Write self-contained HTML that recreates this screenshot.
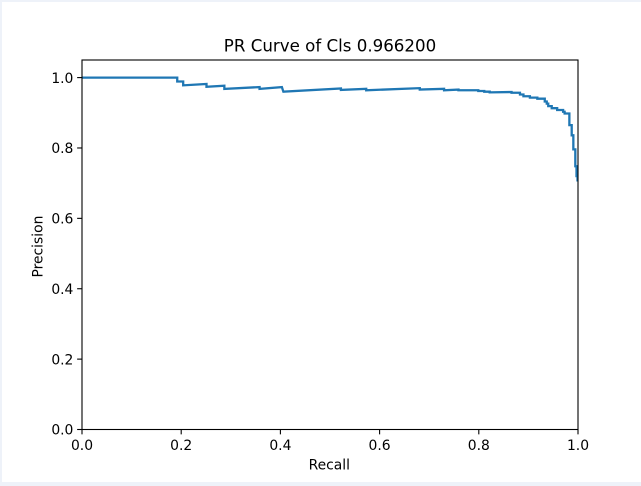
<!DOCTYPE html>
<html>
<head>
<meta charset="utf-8">
<title>PR Curve</title>
<style>
html,body{margin:0;padding:0;background:#eef2f9;width:641px;height:486px;overflow:hidden}
svg{position:absolute;left:2px;top:2px;display:block}
text{font-family:"DejaVu Sans","Liberation Sans",sans-serif;fill:#000}
</style>
</head>
<body>
<svg id="chart" width="639" height="480" viewBox="0 0 639 480">
<rect x="0" y="0" width="639" height="480" fill="#fff"/>
<g id="plot"></g>
</svg>
<script>
var recallValues = [0,0.192,0.192,0.204,0.204,0.251,0.251,0.287,0.287,0.358,0.358,0.403,0.406,0.522,0.522,0.573,0.573,0.681,0.681,0.73,0.73,0.759,0.759,0.799,0.799,0.811,0.811,0.822,0.822,0.866,0.866,0.883,0.883,0.89,0.89,0.903,0.903,0.918,0.918,0.933,0.933,0.937,0.937,0.94,0.94,0.947,0.947,0.958,0.958,0.97,0.97,0.973,0.973,0.9826,0.9826,0.9873,0.9873,0.9906,0.9906,0.9946,0.9946,0.997,0.997,0.999,0.999,1];
var precisionValues = [1,1,0.989,0.989,0.978,0.982,0.974,0.977,0.968,0.973,0.968,0.973,0.96,0.969,0.965,0.968,0.964,0.97,0.966,0.968,0.964,0.966,0.964,0.964,0.962,0.962,0.96,0.96,0.958,0.959,0.957,0.957,0.952,0.952,0.947,0.947,0.943,0.943,0.94,0.94,0.932,0.932,0.926,0.926,0.919,0.919,0.913,0.913,0.908,0.908,0.903,0.903,0.898,0.898,0.865,0.865,0.836,0.836,0.796,0.796,0.748,0.748,0.72,0.72,0.708,0.708];
var xTickValues = [0,0.2,0.4,0.6,0.8,1];
var yTickValues = [0,0.2,0.4,0.6,0.8,1];
var xTickLabels = ["0.0","0.2","0.4","0.6","0.8","1.0"];
var yTickLabels = ["0.0","0.2","0.4","0.6","0.8","1.0"];

var NS = "http://www.w3.org/2000/svg";
var plot = document.getElementById("plot");
var L = 80, R = 576, T = 58, B = 427.5;
function xScale(v){ return L + v * (R - L); }
function yScale(v){ return B - (v / 1.05) * (B - T); }
function make(tag, attrs){
  var el = document.createElementNS(NS, tag);
  for (var k in attrs) el.setAttribute(k, attrs[k]);
  return el;
}

var clip = make("clipPath", {id:"plot-clip"});
clip.appendChild(make("rect", {x:L, y:T, width:R-L, height:B-T}));
plot.appendChild(clip);

var d = "";
for (var i = 0; i < recallValues.length; i++) {
  d += (i ? "L" : "M") + xScale(recallValues[i]).toFixed(2) + " " + yScale(precisionValues[i]).toFixed(2);
}
var curve = make("path", {d:d, fill:"none", stroke:"#1f77b4", "stroke-width":"2.3", "stroke-linejoin":"miter", "clip-path":"url(#plot-clip)"});


plot.appendChild(curve);

xTickValues.forEach(function(v, i){
  var x = xScale(v);
  var t = make("line", {x1:x, x2:x, y1:B, y2:B+4.86, stroke:"#000", "stroke-width":"1.1"});
  
  
  plot.appendChild(t);
  var l = make("text", {x:x, y:B+20.3, "text-anchor":"middle", "font-size":"13.89"});
  l.textContent = xTickLabels[i];
  
  
  plot.appendChild(l);
});
yTickValues.forEach(function(v, i){
  var y = yScale(v);
  var t = make("line", {x1:L-4.86, x2:L, y1:y, y2:y, stroke:"#000", "stroke-width":"1.1"});
  
  
  plot.appendChild(t);
  var l = make("text", {x:L-8.6, y:y+5.2, "text-anchor":"end", "font-size":"13.89"});
  l.textContent = yTickLabels[i];
  
  
  plot.appendChild(l);
});

var frame = make("rect", {x:L, y:T, width:R-L, height:B-T, fill:"none", stroke:"#000", "stroke-width":"1.1"});


plot.appendChild(frame);

var title = make("text", {x:(L+R)/2, y:T-8.7, "text-anchor":"middle", "font-size":"16.67"});
title.textContent = "PR Curve of Cls 0.966200";


plot.appendChild(title);

var xTitle = make("text", {x:(L+R)/2-0.7, y:B+40, "text-anchor":"middle", "font-size":"13.89"});
xTitle.textContent = "Recall";


plot.appendChild(xTitle);

var yTitle = make("text", {x:0, y:0, "text-anchor":"middle", "font-size":"13.89", transform:"translate(40.5 "+((T+B)/2+1.8)+") rotate(-90)"});
yTitle.textContent = "Precision";


plot.appendChild(yTitle);
</script>
</body>
</html>
